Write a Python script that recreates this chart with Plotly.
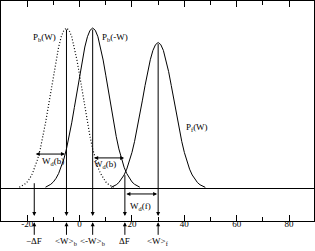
import plotly.graph_objects as go

# ---- data (schematic distributions, baseline = 0, P_b peak = 1) ----
pb_W_x = [-23, -22, -21, -20, -19, -18, -17, -16, -15, -14, -13, -12, -11, -10, -9, -8, -7, -6, -5,
          -4, -3, -2, -1, 0, 1, 2, 3, 4, 5, 6, 7, 8, 9, 10, 11, 12, 13]
pb_W_y = [0.011, 0.018, 0.029, 0.044, 0.066, 0.096, 0.135, 0.186, 0.249, 0.325, 0.411, 0.506, 0.607,
          0.707, 0.801, 0.882, 0.946, 0.986, 1.0, 0.986, 0.946, 0.882, 0.801, 0.707, 0.607, 0.506,
          0.411, 0.325, 0.249, 0.186, 0.135, 0.096, 0.066, 0.044, 0.029, 0.018, 0.011]

pb_mW_x = [-13, -12, -11, -10, -9, -8, -7, -6, -5, -4, -3, -2, -1, 0, 1, 2, 3, 4, 5,
           6, 7, 8, 9, 10, 11, 12, 13, 14, 15, 16, 17, 18, 19, 20, 21, 22, 23]
pb_mW_y = [0.011, 0.018, 0.029, 0.044, 0.066, 0.096, 0.135, 0.186, 0.249, 0.325, 0.411, 0.506, 0.607,
           0.707, 0.801, 0.882, 0.946, 0.986, 1.0, 0.986, 0.946, 0.882, 0.801, 0.707, 0.607, 0.506,
           0.411, 0.325, 0.249, 0.186, 0.135, 0.096, 0.066, 0.044, 0.029, 0.018, 0.011]

pf_x = [12, 13, 14, 15, 16, 17, 18, 19, 20, 21, 22, 23, 24, 25, 26, 27, 28, 29, 30,
        31, 32, 33, 34, 35, 36, 37, 38, 39, 40, 41, 42, 43, 44, 45, 46, 47, 48]
pf_y = [0.010, 0.016, 0.026, 0.040, 0.060, 0.087, 0.123, 0.169, 0.227, 0.296, 0.374, 0.460, 0.552,
        0.643, 0.729, 0.803, 0.861, 0.897, 0.91, 0.897, 0.861, 0.803, 0.729, 0.643, 0.552, 0.460,
        0.374, 0.296, 0.227, 0.169, 0.123, 0.087, 0.060, 0.040, 0.026, 0.016, 0.010]

# marked positions on the W axis
mark_x = [-17.3, -5, 5, 17.3, 30]
mark_top = [0.045, 1.0, 1.0, 0.095, 0.91]
mark_labels = ["\u2212\u0394F", "&lt;W&gt;<sub>b</sub>", "&lt;-W&gt;<sub>b</sub>", "\u0394F",
               "&lt;W&gt;<sub>f</sub>"]
arrow_bottom = -0.168

# width arrows: (x_start, x_end, y, label, label_x, label_y)
width_arrows = [(-17.3, -5.6, 0.217, "W<sub>d</sub>(b)", -10.1, 0.172),
                (5, 17.0, 0.193, "W<sub>d</sub>(b)", 9.8, 0.152),
                (17.3, 29.6, -0.031, "W<sub>d</sub>(f)", 23.2, -0.107)]

curve_labels = [("P<sub>b</sub>(W)", -13.5, 0.94),
                ("P<sub>b</sub>(-W)", 13.6, 0.94),
                ("P<sub>f</sub>(W)", 44.8, 0.38)]

tick_vals = [-20, 0, 20, 40, 60, 80]
tick_text = ["-20", "0", "20", "40", "60", "80"]

FONT = "Liberation Serif, Times New Roman, serif"

fig = go.Figure()
fig.add_trace(go.Scatter(x=pb_W_x, y=pb_W_y, mode="lines",
                         line=dict(color="black", width=1.2, dash="1px,2px")))
fig.add_trace(go.Scatter(x=pb_mW_x, y=pb_mW_y, mode="lines",
                         line=dict(color="black", width=1)))
fig.add_trace(go.Scatter(x=pf_x, y=pf_y, mode="lines",
                         line=dict(color="black", width=1)))

ann = []
for xv, yt in zip(mark_x, mark_top):
    ann.append(dict(x=xv, y=arrow_bottom, ax=xv, ay=yt, xref="x", yref="y", axref="x", ayref="y",
                    text="", showarrow=True, arrowhead=2, arrowsize=0.8, arrowwidth=1,
                    arrowcolor="black", standoff=0))
    # upward arrows below the axis
    ann.append(dict(x=xv, y=-0.006, xref="x", yref="paper", ax=0, ay=14, text="",
                    showarrow=True, arrowhead=2, arrowsize=0.8, arrowwidth=1, arrowcolor="black",
                    standoff=0))
for xv, lab in zip(mark_x, mark_labels):
    ann.append(dict(x=xv, y=-0.093, xref="x", yref="paper", text=lab, showarrow=False,
                    yanchor="middle", xanchor="center", font=dict(size=9, family=FONT, color="black")))

for x0, x1, yv, lab, lx, ly in width_arrows:
    ann.append(dict(x=x1, y=yv, ax=x0, ay=yv, xref="x", yref="y", axref="x", ayref="y", text="",
                    showarrow=True, arrowhead=2, startarrowhead=2, arrowside="end+start",
                    arrowsize=0.8, startarrowsize=0.8, arrowwidth=1, arrowcolor="black",
                    standoff=0, startstandoff=0))
    ann.append(dict(x=lx, y=ly, xref="x", yref="y", text=lab, showarrow=False,
                    font=dict(size=9, family=FONT, color="black")))

for lab, lx, ly in curve_labels:
    ann.append(dict(x=lx, y=ly, xref="x", yref="y", text=lab, showarrow=False,
                    font=dict(size=9, family=FONT, color="black")))

fig.update_layout(
    width=315, height=251,
    margin=dict(l=1, r=1, t=1, b=30),
    paper_bgcolor="white", plot_bgcolor="white",
    showlegend=False,
    annotations=ann,
    xaxis=dict(range=[-30, 89.5], showgrid=False, zeroline=False, showline=True,
               linecolor="black", linewidth=1, mirror="allticks",
               ticks="inside", ticklen=6, tickcolor="black", tickwidth=1,
               tickvals=tick_vals, ticktext=tick_text, ticklabelstandoff=-6,
               tickfont=dict(size=9, family=FONT, color="black"),
               minor=dict(dtick=10, tick0=0, ticks="inside", ticklen=4, tickcolor="black")),
    yaxis=dict(range=[-0.199, 1.168], showgrid=False, showline=True, linecolor="black",
               linewidth=1, mirror=True, showticklabels=False, ticks="",
               zeroline=True, zerolinecolor="black", zerolinewidth=1),
)

fig.write_html("out.html")
